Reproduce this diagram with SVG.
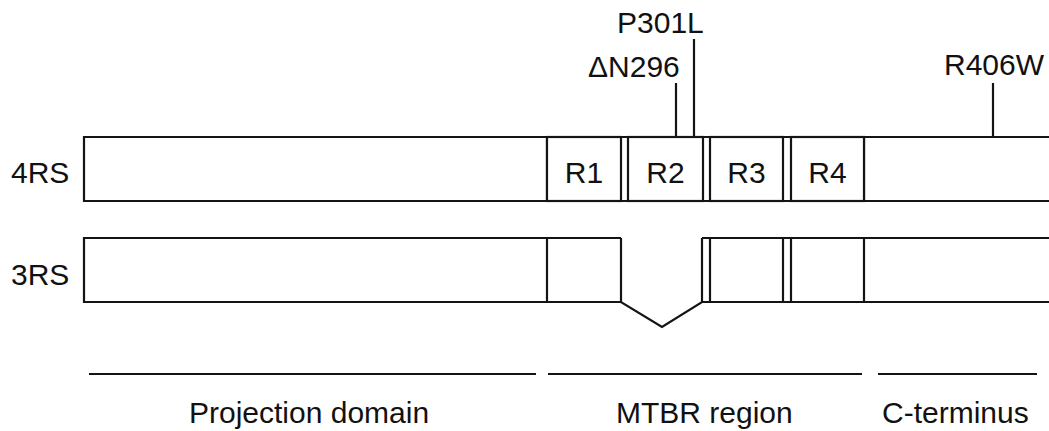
<svg xmlns="http://www.w3.org/2000/svg" width="1049" height="431" viewBox="0 0 1049 431">
  <style>
    .ln { stroke: #141414; stroke-width: 2.2; fill: none; }
    .box { stroke: #141414; stroke-width: 2.2; fill: #ffffff; }
    .t { font-family: "Liberation Sans", Arial, sans-serif; font-size: 30px; fill: #111111; }
    .mid { text-anchor: middle; }
  </style>
  <rect width="1049" height="431" fill="#ffffff"/>

  <!-- 4-repeat isoform -->
  <g id="isoform-4RS">
    <text class="t" x="11" y="183">4RS</text>
    <path class="ln" d="M1050 137 H84 V201 H1050"/>
    <line class="ln" x1="547" y1="137" x2="547" y2="201"/>
    <line class="ln" x1="864" y1="137" x2="864" y2="201"/>
  </g>
  <g id="repeat-R1">
    <rect class="box" x="547" y="137" width="74" height="64"/>
    <text class="t mid" x="584" y="183">R1</text>
  </g>
  <g id="repeat-R2">
    <rect class="box" x="628" y="137" width="75" height="64"/>
    <text class="t mid" x="665.5" y="183">R2</text>
  </g>
  <g id="repeat-R3">
    <rect class="box" x="710" y="137" width="73" height="64"/>
    <text class="t mid" x="746.5" y="183">R3</text>
  </g>
  <g id="repeat-R4">
    <rect class="box" x="791" y="137" width="73" height="64"/>
    <text class="t mid" x="827.5" y="183">R4</text>
  </g>

  <!-- 3-repeat isoform (R2 spliced out) -->
  <g id="isoform-3RS">
    <text class="t" x="11" y="285">3RS</text>
    <path class="ln" d="M621 238 H84 V302 H621 L662 327 L702 302 H1050"/>
    <path class="ln" d="M702 238 H1050"/>
    <line class="ln" x1="547" y1="238" x2="547" y2="302"/>
    <line class="ln" x1="621" y1="238" x2="621" y2="302"/>
    <line class="ln" x1="702" y1="238" x2="702" y2="302"/>
    <line class="ln" x1="710" y1="238" x2="710" y2="302"/>
    <line class="ln" x1="783" y1="238" x2="783" y2="302"/>
    <line class="ln" x1="791" y1="238" x2="791" y2="302"/>
    <line class="ln" x1="864" y1="238" x2="864" y2="302"/>
  </g>

  <!-- mutation labels -->
  <g id="mut-P301L">
    <text class="t" x="617" y="33">P301L</text>
  </g>
  <g id="mut-dN296">
    <text class="t" x="588" y="77">ΔN296</text>
  </g>
  <g id="mut-R406W">
    <text class="t" x="944" y="75">R406W</text>
  </g>

  <!-- mutation site ticks -->
  <g id="connectors">
    <line class="ln" x1="694" y1="39" x2="694" y2="137"/>
    <line class="ln" x1="676" y1="83" x2="676" y2="137"/>
    <line class="ln" x1="993" y1="83" x2="993" y2="137"/>
  </g>

  <!-- domain spans -->
  <g id="domain-projection">
    <line class="ln" x1="89" y1="374" x2="536" y2="374"/>
    <text class="t" x="189" y="423">Projection domain</text>
  </g>
  <g id="domain-mtbr">
    <line class="ln" x1="548" y1="374" x2="862" y2="374"/>
    <text class="t" x="616" y="423">MTBR region</text>
  </g>
  <g id="domain-cterm">
    <line class="ln" x1="878" y1="374" x2="1037" y2="374"/>
    <text class="t" x="882" y="423">C-terminus</text>
  </g>
</svg>
